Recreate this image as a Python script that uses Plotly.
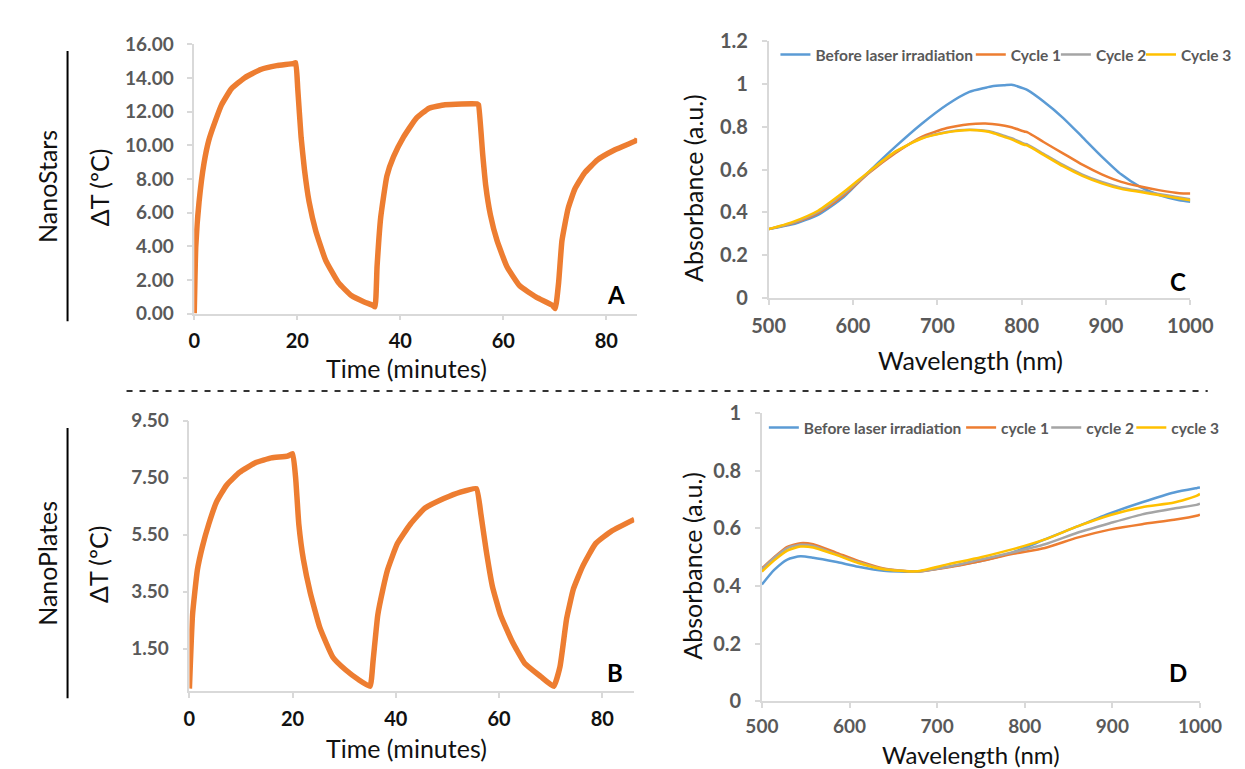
import plotly.graph_objects as go

W, H = 1245, 769

# ---------------- data ----------------
# Panel A: NanoStars, temperature rise vs time
a_time = [0, 0.3, 0.94, 1.9, 2.83, 4.1, 5.3, 7.2, 9.75, 12.9, 16, 19.2, 19.7,
          20.1, 20.75, 21.4, 22.3, 23.6, 25.5, 28, 30.5, 33, 34.6, 35.1,
          35.5, 36.2, 37.4, 38.7, 40.6, 43.1, 45.6, 48.7, 51.9, 55.0, 55.2,
          56.0, 56.6, 57.5, 58.8, 60.7, 63.2, 66.4, 69.5, 70.1,
          70.75, 71.4, 72.6, 73.9, 75.8, 78.3, 81.5, 85.8, 86]
a_dT = [0, 4.0, 6.64, 8.94, 10.3, 11.45, 12.4, 13.35, 14.0, 14.5, 14.73, 14.85, 14.9,
        13.35, 10.47, 8.56, 6.64, 4.91, 3.18, 1.84, 1.07, 0.69, 0.5, 0.4,
        2.8, 5.7, 8.17, 9.32, 10.47, 11.6, 12.2, 12.4, 12.45, 12.45, 12.4,
        9.5, 7.6, 5.87, 4.33, 2.8, 1.65, 0.98, 0.5, 0.3,
        1.84, 4.33, 6.25, 7.4, 8.36, 9.13, 9.7, 10.28, 10.4]

# Panel B: NanoPlates, temperature rise vs time
b_time = [0, 0.6, 1.55, 2.5, 3.74, 5.3, 7.2, 9.7, 12.8, 15.9, 19, 20,
          20.6, 21.2, 22.1, 23.4, 25.3, 27.8, 30.3, 32.8, 35,
          35.6, 36.5, 37.5, 38.4, 40.3, 42.8, 45.6, 49.3, 52.5, 55.6,
          56.5, 57.5, 58.7, 60.3, 62.5, 65, 68.1, 70.6,
          71.8, 73.1, 74.4, 76.2, 78.7, 81.9, 86.2]
b_dT = [0.1, 2.68, 4.27, 5.07, 5.87, 6.67, 7.24, 7.69, 8.03, 8.2, 8.26, 8.35,
        7.46, 5.87, 4.62, 3.48, 2.23, 1.2, 0.75, 0.41, 0.18,
        1.09, 2.68, 3.59, 4.27, 5.19, 5.87, 6.43, 6.77, 7.0, 7.12,
        6.2, 4.96, 3.7, 2.68, 1.77, 0.98, 0.52, 0.18,
        0.86, 2.56, 3.59, 4.39, 5.19, 5.64, 6.04]

# Panel C: NanoStars absorbance spectra
c_wl = [500, 528, 558.5, 589, 619.6, 650, 680.8, 711.4, 738, 757, 765, 780, 788,
        803, 807, 826, 849, 872, 895, 918, 941, 964, 987, 1000]
c_before = [0.322, 0.344, 0.389, 0.472, 0.593, 0.706, 0.812, 0.903, 0.963, 0.982, 0.989, 0.994, 0.996,
            0.978, 0.971, 0.918, 0.842, 0.752, 0.661, 0.578, 0.518, 0.48, 0.457, 0.45]
c_cycle1 = [0.322, 0.349, 0.397, 0.48, 0.586, 0.676, 0.752, 0.794, 0.812, 0.815, 0.813, 0.805, 0.798,
            0.778, 0.774, 0.729, 0.676, 0.623, 0.578, 0.543, 0.521, 0.503, 0.49, 0.488]
c_cycle2 = [0.322, 0.351, 0.402, 0.488, 0.59, 0.682, 0.746, 0.776, 0.786, 0.781, 0.776, 0.757, 0.747,
            0.721, 0.717, 0.674, 0.622, 0.577, 0.542, 0.516, 0.5, 0.485, 0.47, 0.462]
c_cycle3 = [0.322, 0.355, 0.408, 0.495, 0.593, 0.684, 0.744, 0.774, 0.785, 0.779, 0.772, 0.752, 0.741,
            0.716, 0.712, 0.669, 0.616, 0.571, 0.536, 0.51, 0.495, 0.48, 0.465, 0.457]

# Panel D: NanoPlates absorbance spectra
d_wl = [500, 514, 529, 544, 558.5, 584, 610, 639, 676, 713, 750, 786.6, 823, 860, 897, 934, 970.5, 996, 1000]
d_before = [0.405, 0.456, 0.492, 0.503, 0.498, 0.484, 0.467, 0.453, 0.45, 0.467, 0.487, 0.517,
            0.562, 0.607, 0.652, 0.691, 0.725, 0.74, 0.742]
d_cycle1 = [0.461, 0.5, 0.536, 0.549, 0.545, 0.517, 0.487, 0.461, 0.45, 0.465, 0.487, 0.512,
            0.532, 0.568, 0.596, 0.615, 0.63, 0.644, 0.648]
d_cycle2 = [0.458, 0.498, 0.532, 0.543, 0.539, 0.511, 0.483, 0.459, 0.45, 0.467, 0.492, 0.517,
            0.545, 0.585, 0.618, 0.649, 0.669, 0.682, 0.686]
d_cycle3 = [0.45, 0.489, 0.523, 0.537, 0.534, 0.509, 0.48, 0.458, 0.451, 0.476, 0.5, 0.528,
            0.562, 0.607, 0.646, 0.674, 0.69, 0.713, 0.72]

a_yticks = [0, 2, 4, 6, 8, 10, 12, 14, 16]
b_yticks = [1.5, 3.5, 5.5, 7.5, 9.5]
time_ticks = [0, 20, 40, 60, 80]
c_yticks = [0, 0.2, 0.4, 0.6, 0.8, 1.0, 1.2]
d_yticks = [0, 0.2, 0.4, 0.6, 0.8, 1.0]
wl_ticks = [500, 600, 700, 800, 900, 1000]

c_names = ["Before laser irradiation", "Cycle 1", "Cycle 2", "Cycle 3"]
d_names = ["Before laser irradiation", "cycle 1", "cycle 2", "cycle 3"]

# ---------------- styling ----------------
ORANGE = "#ED7D31"
BLUE = "#5B9BD5"
GRAY = "#A5A5A5"
YELLOW = "#FFC000"
AXIS = "#D9D9D9"
TXT = "#595959"
FONT = "Lato"


def px_dom_x(a, b):
    return [a / W, b / W]


def px_dom_y(top, bottom):
    return [1 - bottom / H, 1 - top / H]


fig = go.Figure()

fig.add_trace(go.Scatter(x=a_time, y=a_dT, mode="lines",
                         line=dict(color=ORANGE, width=5.5, shape="spline", smoothing=0.4),
                         xaxis="x", yaxis="y", showlegend=False))
fig.add_trace(go.Scatter(x=b_time, y=b_dT, mode="lines",
                         line=dict(color=ORANGE, width=5.5, shape="spline", smoothing=0.4),
                         xaxis="x2", yaxis="y2", showlegend=False))

c_series = [c_before, c_cycle1, c_cycle2, c_cycle3]
d_series = [d_before, d_cycle1, d_cycle2, d_cycle3]
cols = [BLUE, ORANGE, GRAY, YELLOW]
c_leg_x = [782, 984, 1072, 1160]   # left end of legend line samples (px)
d_leg_x = [770, 974, 1062, 1150]
leg_font = dict(family=FONT, size=15.5, color=TXT, weight="bold")
legends = {}
for i, (name, ys, col) in enumerate(zip(c_names, c_series, cols)):
    lid = "legend" if i == 0 else f"legend{i + 1}"
    fig.add_trace(go.Scatter(x=c_wl, y=ys, mode="lines", name=name,
                             line=dict(color=col, width=2.5, shape="spline", smoothing=0.6),
                             xaxis="x3", yaxis="y3", legend=lid))
    legends[lid] = dict(orientation="h", x=(c_leg_x[i] - 6) / W, y=1 - 35 / H, xanchor="left",
                        yanchor="middle", font=leg_font, bgcolor="rgba(0,0,0,0)", itemwidth=30)
for i, (name, ys, col) in enumerate(zip(d_names, d_series, cols)):
    lid = f"legend{i + 5}"
    fig.add_trace(go.Scatter(x=d_wl, y=ys, mode="lines", name=name,
                             line=dict(color=col, width=2.5, shape="spline", smoothing=0.6),
                             xaxis="x4", yaxis="y4", legend=lid))
    legends[lid] = dict(orientation="h", x=(d_leg_x[i] - 6) / W, y=1 - 420 / H, xanchor="left",
                        yanchor="middle", font=leg_font, bgcolor="rgba(0,0,0,0)", itemwidth=30)

common_axis = dict(showline=True, linecolor=AXIS, linewidth=1.5, showgrid=False, zeroline=False,
                   ticks="outside", ticklen=5, tickcolor=AXIS, tickwidth=1.5, fixedrange=True)

xfont_bold = dict(family=FONT, size=20, color="#111111", weight="bold")
yfont_bold = dict(family=FONT, size=19, color=TXT, weight="bold")
cfont = dict(family=FONT, size=20, color=TXT, weight="bold")
dxfont = dict(family=FONT, size=19, color=TXT, weight="bold")

fig.update_layout(
    width=W, height=H,
    margin=dict(l=0, r=0, t=0, b=0),
    paper_bgcolor="white", plot_bgcolor="white",
    font=dict(family=FONT, color=TXT),
    xaxis=dict(domain=px_dom_x(175, 633), range=[0, 86], tickvals=time_ticks, tickfont=xfont_bold,
               anchor="y", ticklabelstandoff=4, **common_axis),
    yaxis=dict(domain=px_dom_y(24, 302), range=[0, 16], tickvals=a_yticks,
               ticktext=[f"{v:.2f}" for v in a_yticks], tickfont=yfont_bold, anchor="x",
               ticklabelstandoff=10, **common_axis),
    xaxis2=dict(domain=px_dom_x(170, 630), range=[0, 86.2], tickvals=time_ticks, tickfont=xfont_bold,
                anchor="y2", ticklabelstandoff=4, **common_axis),
    yaxis2=dict(domain=px_dom_y(412.7, 692), range=[0, 9.5], tickvals=b_yticks,
                ticktext=[f"{v:.2f}" for v in b_yticks], tickfont=yfont_bold, anchor="x2",
                ticklabelstandoff=10, **common_axis),
    xaxis3=dict(domain=px_dom_x(769, 1205), range=[500, 1000], tickvals=wl_ticks, tickfont=cfont,
                anchor="y3", ticklabelstandoff=4, **common_axis),
    yaxis3=dict(domain=px_dom_y(20.8, 286), range=[0, 1.2], tickvals=c_yticks,
                ticktext=["0", "0.2", "0.4", "0.6", "0.8", "1", "1.2"], tickfont=cfont, anchor="x3",
                ticklabelstandoff=10, **common_axis),
    xaxis4=dict(domain=px_dom_x(762, 1215), range=[500, 1000], tickvals=wl_ticks, tickfont=dxfont,
                anchor="y4", ticklabelstandoff=2, **common_axis),
    yaxis4=dict(domain=px_dom_y(405, 702), range=[0, 1.0], tickvals=d_yticks,
                ticktext=["0", "0.2", "0.4", "0.6", "0.8", "1"], tickfont=cfont, anchor="x4",
                ticklabelstandoff=10, **common_axis),
    **legends,
)

title_font = dict(family=FONT, size=25, color="#111111")
ann = []


def text(x, y, s, font, angle=0, xa="center", ya="middle"):
    ann.append(dict(x=x / W, y=1 - y / H, xref="paper", yref="paper", text=s, showarrow=False,
                    font=font, textangle=angle, xanchor=xa, yanchor=ya))


text(394, 358, "Time (minutes)", title_font)
text(394, 750, "Time (minutes)", title_font)
text(76, 172, "ΔT (ºC)", title_font, angle=-90)
text(76, 561, "ΔT (ºC)", title_font, angle=-90)
text(22, 171, "NanoStars", title_font, angle=-90)
text(22, 560, "NanoPlates", title_font, angle=-90)
text(978, 350, "Wavelength (nm)", title_font)
ann.append(dict(x=978 / W, y=0, xref="paper", yref="paper", text="Wavelength (nm)", showarrow=False,
                font=dict(family=FONT, size=24, color="#111111"), xanchor="center", yanchor="bottom",
                borderpad=0, yshift=-4))
text(690, 172, "Absorbance (a.u.)", title_font, angle=-90)
text(690, 562, "Absorbance (a.u.)", title_font, angle=-90)

letter_font = dict(family=FONT, size=24, color="#000000", weight="bold")
text(611, 282, "A", letter_font)
text(610, 672, "B", letter_font)
text(1192, 269, "C", letter_font)
text(1192, 672, "D", letter_font)

fig.update_layout(annotations=ann)

shapes = [
    dict(type="line", xref="paper", yref="paper", x0=105 / W, x1=1223 / W, y0=1 - 382 / H, y1=1 - 382 / H,
         line=dict(color="#333333", width=2, dash="6px,7px")),
    dict(type="line", xref="paper", yref="paper", x0=44 / W, x1=44 / W, y0=1 - 31 / H, y1=1 - 310 / H,
         line=dict(color="#000000", width=2)),
    dict(type="line", xref="paper", yref="paper", x0=44 / W, x1=44 / W, y0=1 - 420 / H, y1=1 - 699 / H,
         line=dict(color="#000000", width=2)),
]
fig.update_layout(shapes=shapes)

fig.write_html("out.html")
